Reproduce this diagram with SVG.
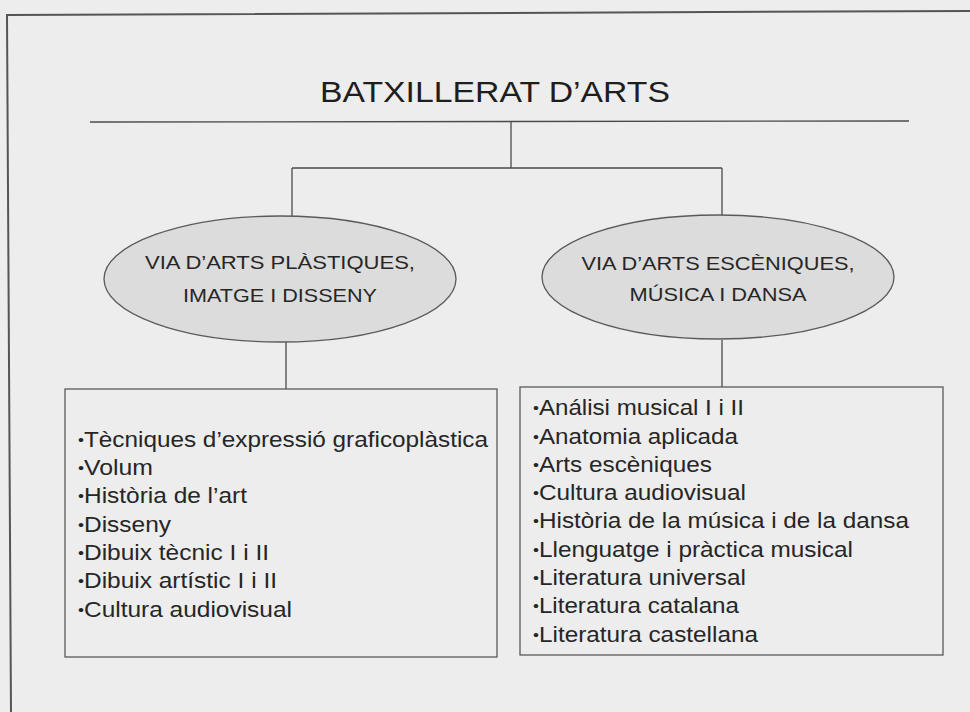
<svg xmlns="http://www.w3.org/2000/svg" width="970" height="712" viewBox="0 0 970 712">
<style>
  .ln { stroke:#4a4a4a; stroke-width:1.3; fill:none; }
  .frame { stroke:#555; stroke-width:2; fill:none; }
  .ell { fill:#dcdcdc; stroke:#5a5a5a; stroke-width:1.3; }
  .box { fill:none; stroke:#5a5a5a; stroke-width:1.3; }
  text { font-family:"Liberation Sans", Arial, sans-serif; fill:#262626; }
  .title { font-size:29px; fill:#1e1e1e; }
  .el { font-size:19px; text-anchor:middle; }
  .li { font-size:21.5px; }
  .b { font-size:15px; }
</style>
<rect x="0" y="0" width="970" height="712" fill="#ededed"/>
<g id="frame">
  <path class="frame" d="M970 11 L7 15 L11 712"/>
</g>
<g id="title">
  <text class="title" x="320" y="102" textLength="350" lengthAdjust="spacingAndGlyphs">BATXILLERAT D’ARTS</text>
  <path class="ln" d="M90 122 L909 121" stroke-width="1.6"/>
</g>
<g id="connectors">
  <path class="ln" d="M511 122 V168"/>
  <path class="ln" d="M292 168 H722"/>
  <path class="ln" d="M292 168 V217"/>
  <path class="ln" d="M722 168 V215"/>
  <path class="ln" d="M286 342 V389"/>
  <path class="ln" d="M722 340 V387"/>
</g>
<g id="via1">
  <ellipse class="ell" cx="280" cy="279" rx="176" ry="63"/>
  <text class="el" x="280" y="269" textLength="270" lengthAdjust="spacingAndGlyphs">VIA D’ARTS PLÀSTIQUES,</text>
  <text class="el" x="280" y="302" textLength="194" lengthAdjust="spacingAndGlyphs">IMATGE I DISSENY</text>
</g>
<g id="via2">
  <ellipse class="ell" cx="718" cy="277" rx="176" ry="62"/>
  <text class="el" x="718" y="270" textLength="273" lengthAdjust="spacingAndGlyphs">VIA D’ARTS ESCÈNIQUES,</text>
  <text class="el" x="718" y="301" textLength="177" lengthAdjust="spacingAndGlyphs">MÚSICA I DANSA</text>
</g>
<g id="box1">
  <rect class="box" x="65" y="389" width="432" height="268"/>
  <text class="li" x="78" y="447" textLength="410" lengthAdjust="spacingAndGlyphs"><tspan class="b" dy="-2">•</tspan><tspan dy="2">Tècniques d’expressió graficoplàstica</tspan></text>
  <text class="li" x="78" y="475" textLength="75" lengthAdjust="spacingAndGlyphs"><tspan class="b" dy="-2">•</tspan><tspan dy="2">Volum</tspan></text>
  <text class="li" x="78" y="503" textLength="169" lengthAdjust="spacingAndGlyphs"><tspan class="b" dy="-2">•</tspan><tspan dy="2">Història de l’art</tspan></text>
  <text class="li" x="78" y="532" textLength="93" lengthAdjust="spacingAndGlyphs"><tspan class="b" dy="-2">•</tspan><tspan dy="2">Disseny</tspan></text>
  <text class="li" x="78" y="560" textLength="191" lengthAdjust="spacingAndGlyphs"><tspan class="b" dy="-2">•</tspan><tspan dy="2">Dibuix tècnic I i II</tspan></text>
  <text class="li" x="78" y="588" textLength="199" lengthAdjust="spacingAndGlyphs"><tspan class="b" dy="-2">•</tspan><tspan dy="2">Dibuix artístic I i II</tspan></text>
  <text class="li" x="78" y="617" textLength="214" lengthAdjust="spacingAndGlyphs"><tspan class="b" dy="-2">•</tspan><tspan dy="2">Cultura audiovisual</tspan></text>
</g>
<g id="box2">
  <rect class="box" x="520" y="387" width="423" height="268"/>
  <text class="li" x="533" y="415" textLength="211" lengthAdjust="spacingAndGlyphs"><tspan class="b" dy="-2">•</tspan><tspan dy="2">Análisi musical I i II</tspan></text>
  <text class="li" x="533" y="444" textLength="205" lengthAdjust="spacingAndGlyphs"><tspan class="b" dy="-2">•</tspan><tspan dy="2">Anatomia aplicada</tspan></text>
  <text class="li" x="533" y="472" textLength="179" lengthAdjust="spacingAndGlyphs"><tspan class="b" dy="-2">•</tspan><tspan dy="2">Arts escèniques</tspan></text>
  <text class="li" x="533" y="500" textLength="213" lengthAdjust="spacingAndGlyphs"><tspan class="b" dy="-2">•</tspan><tspan dy="2">Cultura audiovisual</tspan></text>
  <text class="li" x="533" y="528" textLength="376" lengthAdjust="spacingAndGlyphs"><tspan class="b" dy="-2">•</tspan><tspan dy="2">Història de la música i de la dansa</tspan></text>
  <text class="li" x="533" y="557" textLength="320" lengthAdjust="spacingAndGlyphs"><tspan class="b" dy="-2">•</tspan><tspan dy="2">Llenguatge i pràctica musical</tspan></text>
  <text class="li" x="533" y="585" textLength="213" lengthAdjust="spacingAndGlyphs"><tspan class="b" dy="-2">•</tspan><tspan dy="2">Literatura universal</tspan></text>
  <text class="li" x="533" y="613" textLength="206" lengthAdjust="spacingAndGlyphs"><tspan class="b" dy="-2">•</tspan><tspan dy="2">Literatura catalana</tspan></text>
  <text class="li" x="533" y="642" textLength="225" lengthAdjust="spacingAndGlyphs"><tspan class="b" dy="-2">•</tspan><tspan dy="2">Literatura castellana</tspan></text>
</g>
</svg>
